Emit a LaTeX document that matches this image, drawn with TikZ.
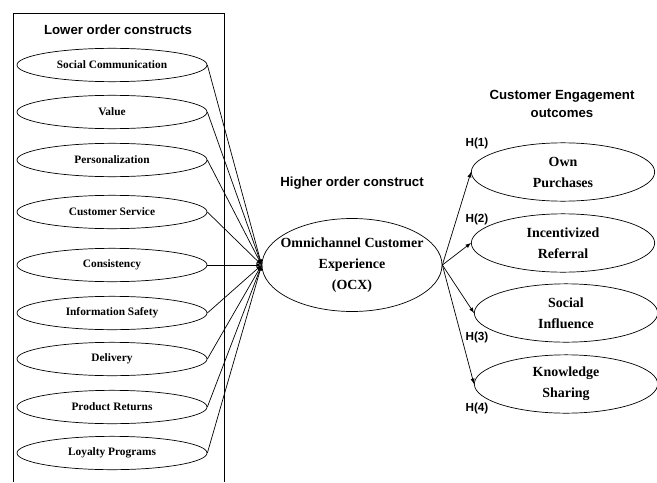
\documentclass[tikz,border=0pt]{standalone}
\usepackage{fontspec}
\setmainfont{Liberation Serif}
\setsansfont{Liberation Sans}
\usetikzlibrary{arrows,shapes}

\begin{document}
\begin{tikzpicture}[x=0.03cm,y=-0.03cm,line width=0.6pt,
    lower/.style={draw,ellipse,inner sep=0pt,minimum width=5.7cm,minimum height=1cm,
      font=\fontsize{9.7}{11}\selectfont\bfseries},
    outcome/.style={draw,ellipse,inner sep=0pt,minimum width=5.5cm,minimum height=1.75cm,
      align=center,font=\fontsize{11.9}{17.9}\selectfont\bfseries},
    heading/.style={align=center,font=\sffamily\bfseries\fontsize{11.3}{16}\selectfont},
    hyp/.style={inner sep=0pt,font=\sffamily\bfseries\fontsize{10}{12}\selectfont}]
          \useasboundingbox (0,0) rectangle (657,482);
          \draw (13,482) -- (13,13) -- (224,13) -- (224,482);
          \node[heading] (lowtitle) at (118,30) {Lower order constructs};
          \node[heading] (hightitle) at (352,183) {Higher order construct};
          \node[heading] (outtitle) at (562,104) {Customer Engagement\\outcomes};
          % lower order constructs
          \node[lower] (soc) at (112,65) {Social Communication};
          \node[lower] (val) at (112,112) {Value};
          \node[lower] (pers) at (112,160) {Personalization};
          \node[lower] (serv) at (112,212) {Customer Service};
          \node[lower] (cons) at (112,265) {Consistency};
          \node[lower] (safe) at (112,313) {Information Safety};
          \node[lower] (deliv) at (112,359) {Delivery};
          \node[lower] (ret) at (112,407) {Product Returns};
          \node[lower] (loyal) at (112,453) {Loyalty Programs};
          % higher order construct
          \node[draw,ellipse,inner xsep=-8pt,inner ysep=0pt,minimum width=5.4cm,
            minimum height=2.79cm,align=center,font=\fontsize{11.9}{17.9}\selectfont\bfseries]
            (ocx) at (352,265) {Omnichannel Customer\\Experience\\(OCX)};
          % outcomes
          \node[outcome] (own) at (563,172) {Own\\Purchases};
          \node[outcome] (ref) at (563,243) {Incentivized\\Referral};
          \node[outcome] (infl) at (566,313) {Social\\Influence};
          \node[outcome] (share) at (566,384) {Knowledge\\Sharing};
          \node[hyp] (h1) at (477,143) {H(1)};
          \node[hyp] (h2) at (477,219) {H(2)};
          \node[hyp] (h3) at (477,337) {H(3)};
          \node[hyp] (h4) at (477,408) {H(4)};
          \draw[-latex] (soc.east) -- (ocx.west);
          \draw[-latex] (val.east) -- (ocx.west);
          \draw[-latex] (pers.east) -- (ocx.west);
          \draw[-latex] (serv.east) -- (ocx.west);
          \draw[-latex] (cons.east) -- (ocx.west);
          \draw[-latex] (safe.east) -- (ocx.west);
          \draw[-latex] (deliv.east) -- (ocx.west);
          \draw[-latex] (ret.east) -- (ocx.west);
          \draw[-latex] (loyal.east) -- (ocx.west);
          \draw[-latex] (ocx.east) -- (own.west);
          \draw[-latex] (ocx.east) -- (ref.west);
          \draw[-latex] (ocx.east) -- (infl.west);
          \draw[-latex] (ocx.east) -- (share.west);
        \end{tikzpicture}
\end{document}
